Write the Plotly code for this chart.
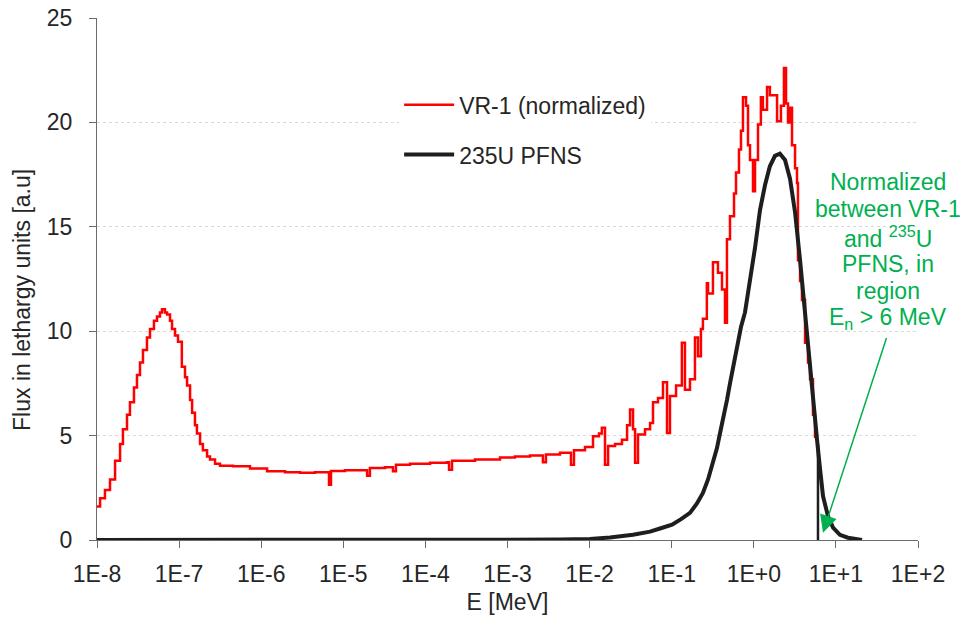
import plotly.graph_objects as go

# ---------------- data ----------------
vr1_energy = [1.00e-8, 1.09e-8, 1.25e-8, 1.44e-8, 1.66e-8, 1.91e-8, 2.07e-8, 2.32e-8, 2.52e-8,
              2.82e-8, 3.07e-8, 3.34e-8, 3.63e-8, 4.06e-8, 4.42e-8, 4.94e-8, 5.38e-8, 5.85e-8,
              6.19e-8, 6.73e-8, 7.13e-8, 7.75e-8, 8.20e-8, 8.92e-8, 9.70e-8, 1.08e-7, 1.18e-7,
              1.25e-7, 1.36e-7, 1.44e-7, 1.56e-7, 1.65e-7, 1.80e-7, 1.95e-7, 2.19e-7, 2.38e-7,
              2.74e-7, 3.15e-7, 4.54e-7, 7.31e-7, 1.18e-6, 1.95e-6, 2.97e-6, 4.52e-6, 6.33e-6,
              6.70e-6, 7.08e-6, 1.05e-5, 1.60e-5, 1.95e-5, 2.11e-5, 3.22e-5, 4.03e-5, 4.38e-5,
              6.49e-5, 1.14e-4, 1.83e-4, 1.94e-4, 2.11e-4, 4.02e-4, 8.10e-4, 1.23e-3, 1.88e-3,
              2.70e-3, 2.94e-3, 4.36e-3, 5.93e-3, 6.45e-3, 8.79e-3, 1.10e-2, 1.30e-2, 1.41e-2,
              1.54e-2, 1.68e-2, 2.04e-2, 2.48e-2, 2.86e-2, 3.11e-2, 3.38e-2, 3.58e-2, 3.89e-2,
              4.73e-2, 5.45e-2, 5.92e-2, 6.81e-2, 7.83e-2, 8.77e-2, 9.53e-2, 0.113, 0.133, 0.145,
              0.167, 0.192, 0.209, 0.227, 0.240, 0.268, 0.277, 0.318, 0.366, 0.410, 0.446, 0.471,
              0.513, 0.574, 0.607, 0.660, 0.698, 0.738, 0.804, 0.850, 0.899, 0.978, 1.035, 1.125,
              1.22, 1.29, 1.45, 1.57, 1.92, 2.14, 2.33, 2.47, 2.61, 2.76, 2.92, 3.18, 3.36, 3.45,
              3.66, 3.86, 4.21, 4.57, 4.84, 5.26, 5.57, 6.05]
vr1_flux = [1.6, 2.0, 2.4, 2.9, 3.8, 4.6, 5.3, 6.0, 6.6,
            7.3, 7.9, 8.5, 9.1, 9.7, 10.1, 10.5, 10.7, 10.9,
            11.05, 10.9, 10.8, 10.5, 10.1, 9.8, 9.5, 8.3, 7.8,
            7.4, 6.7, 6.1, 5.5, 5.1, 4.6, 4.3, 4.0, 3.85,
            3.65, 3.56, 3.53, 3.42, 3.29, 3.25, 3.22, 3.24, 3.24,
            2.65, 3.3, 3.34, 3.34, 3.08, 3.45, 3.48, 3.29, 3.6,
            3.65, 3.7, 3.72, 3.37, 3.8, 3.85, 3.95, 4.0, 4.05,
            3.72, 4.1, 4.18, 3.6, 4.3, 4.45, 4.97, 5.1, 5.38,
            3.6, 4.5, 4.6, 4.8, 5.5, 6.25, 5.3, 3.7, 5.05,
            5.3, 5.6, 6.6, 6.8, 7.55, 5.13, 6.9, 7.4, 9.45, 7.2,
            7.7, 9.7, 8.8, 10.1, 10.6, 12.3, 11.8, 13.3, 12.8, 12.0, 10.4, 14.4,
            15.5, 16.6, 17.6, 18.7, 19.6, 21.2, 20.8, 18.9, 18.2, 16.7, 18.2, 19.9,
            21.2, 20.6, 21.7, 21.3, 20.05, 20.8, 22.6, 20.9, 20.0, 20.7, 18.9, 17.8, 17.1, 13.4,
            12.4, 11.5, 9.45, 8.5, 7.7, 6.0, 4.95, 4.95]

pfns_energy = [1.0e-8, 8.1e-4, 4.36e-3, 1.01e-2, 1.77e-2, 3.38e-2, 5.45e-2, 7.20e-2, 0.101,
               0.130, 0.167, 0.203, 0.240, 0.277, 0.318, 0.356, 0.387, 0.433, 0.471, 0.513,
               0.558, 0.624, 0.698, 0.781, 0.899, 1.035, 1.19, 1.37, 1.57, 1.81, 2.08, 2.40,
               2.76, 3.18, 3.66, 4.21, 4.84, 5.26, 5.89, 6.41, 6.97, 8.02, 9.23, 11.2, 14.0, 20.8]
pfns_flux = [0.0, 0.0, 0.02, 0.05, 0.12, 0.25, 0.4, 0.55, 0.73,
             1.0, 1.3, 1.75, 2.25, 2.9, 3.7, 4.4, 5.1, 5.9, 6.7, 7.5,
             8.3, 9.3, 10.2, 10.9, 12.4, 14.0, 15.8, 17.0, 17.9, 18.4, 18.5, 18.2,
             17.3, 15.7, 13.4, 10.8, 8.3, 6.4, 4.8, 3.4, 2.1, 1.13, 0.59, 0.25, 0.11, 0.0]

# normalization cut (6 MeV) drawn as a vertical black segment
cut_energy = [6.05, 6.05]
cut_flux = [0.0, 4.6]

x_tickvals = [1e-8, 1e-7, 1e-6, 1e-5, 1e-4, 1e-3, 1e-2, 1e-1, 1e0, 1e1, 1e2]
x_ticktext = ["1E-8", "1E-7", "1E-6", "1E-5", "1E-4", "1E-3", "1E-2", "1E-1", "1E+0", "1E+1", "1E+2"]
y_tickvals = [0, 5, 10, 15, 20, 25]

note_lines = ["Normalized", "between VR-1", "and <sup>235</sup>U", "PFNS, in", "region",
              "E<sub>n</sub> &gt; 6 MeV"]

# ---------------- figure ----------------
FONT = "Liberation Sans, Arial, sans-serif"
TXT = "#262626"
GREEN = "#00B050"

fig = go.Figure()
fig.add_trace(go.Scatter(x=vr1_energy, y=vr1_flux, mode="lines", name="VR-1 (normalized)",
                         line=dict(color="#FF0000", width=2.5, shape="hv"),
                         legendgroup="a"))
fig.add_trace(go.Scatter(x=pfns_energy, y=pfns_flux, mode="lines", name="235U PFNS",
                         line=dict(color="#1e1e1e", width=4),
                         legendgroup="b"))
fig.add_trace(go.Scatter(x=cut_energy, y=cut_flux, mode="lines", showlegend=False,
                         line=dict(color="#1e1e1e", width=2.5)))

axis_line = "#6b6b6b"
fig.update_xaxes(type="log", range=[-8, 2], tickvals=x_tickvals, ticktext=x_ticktext,
                 showgrid=False, zeroline=False, showline=True, linecolor=axis_line, linewidth=1,
                 ticks="outside", ticklen=7, tickcolor=axis_line, tickwidth=1,
                 tickfont=dict(family=FONT, size=23, color=TXT), ticklabelstandoff=6,
                 title=dict(text="E [MeV]", font=dict(family=FONT, size=23, color=TXT), standoff=8),
                 automargin=False)
fig.update_yaxes(range=[0, 25], tickvals=y_tickvals,
                 showgrid=True, gridcolor="#d9d9d9", griddash="dot", gridwidth=1,
                 zeroline=False, showline=True, linecolor=axis_line, linewidth=1,
                 ticks="outside", ticklen=7, tickcolor=axis_line, tickwidth=1,
                 tickfont=dict(family=FONT, size=23, color=TXT), ticklabelstandoff=12,
                 automargin=False)

# y-axis title (placed slightly below the plot centre, as in the reference)
fig.add_annotation(x=-0.0914, y=0.4598, xref="paper", yref="paper",
                   text="Flux in lethargy units [a.u]", textangle=-90, showarrow=False,
                   xanchor="center", yanchor="middle",
                   font=dict(family=FONT, size=23, color=TXT))

for i, line in enumerate(note_lines):
    fig.add_annotation(x=0.9635, y=0.6858, xref="paper", yref="paper", text=line,
                       showarrow=False, xanchor="center", yanchor="middle",
                       yshift=-27.3 * i, font=dict(family=FONT, size=23, color=GREEN))

# arrow (positions in log10 units on the x axis)
fig.add_annotation(x=0.843, y=0.35, xref="x", yref="y", ax=1.622, ay=9.75, axref="x", ayref="y",
                   text="", showarrow=True, arrowhead=2, arrowsize=2.3, arrowwidth=1.5,
                   arrowcolor=GREEN, standoff=0)

fig.update_layout(
    width=971, height=618,
    margin=dict(l=97, r=53, t=18, b=78),
    paper_bgcolor="white", plot_bgcolor="white",
    font=dict(family=FONT, size=23, color=TXT),
    legend=dict(x=0.368, y=0.875, xanchor="left", yanchor="top",
                bgcolor="white", borderwidth=0, tracegroupgap=17,
                traceorder="grouped", itemwidth=50,
                font=dict(family=FONT, size=23, color=TXT)),
    showlegend=True,
)

fig.write_html("out.html")
